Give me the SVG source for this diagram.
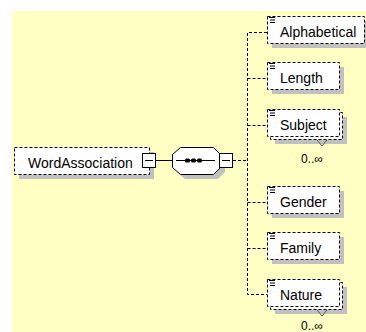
<svg xmlns="http://www.w3.org/2000/svg" width="366" height="332" viewBox="0 0 366 332">
<style>
.bg{fill:#FFFFC4}
.sh{fill:#C0C0C0}
.box{fill:#FFFFFF;stroke:#000;stroke-width:1;stroke-dasharray:3,2}
.solid{fill:#FFFFFF;stroke:#000;stroke-width:1}
.con{fill:none;stroke:#000;stroke-width:1;stroke-dasharray:3,2}
.line{fill:none;stroke:#000;stroke-width:1}
.ico{stroke:#000;stroke-width:1}
.t{font-family:"Liberation Sans",Arial,sans-serif;font-size:14px;fill:#000}
.occ{font-family:"Liberation Sans",Arial,sans-serif;font-size:12px;fill:#000}
.notch{fill:none;stroke:#555;stroke-width:1}
</style>
<defs>
<g id="icon"><line class="ico" x1="2" y1="1.5" x2="8" y2="1.5"/><line class="ico" x1="3" y1="4" x2="8" y2="4"/><line class="ico" x1="3" y1="6.5" x2="8" y2="6.5"/></g>
</defs>
<rect class="bg" x="12" y="11" width="354" height="321"/>

<g id="connectors">
<line class="line" x1="156" y1="160.5" x2="172" y2="160.5"/>
<line class="con" x1="233" y1="160.5" x2="247" y2="160.5"/>
<polyline class="con" points="267,32.5 247.5,32.5 247.5,294.5 267,294.5"/>
<line class="con" x1="247.5" y1="78.5" x2="267" y2="78.5"/>
<line class="con" x1="247.5" y1="125.5" x2="267" y2="125.5"/>
<line class="con" x1="247.5" y1="202.5" x2="267" y2="202.5"/>
<line class="con" x1="247.5" y1="248.5" x2="267" y2="248.5"/>
</g>

<g id="WordAssociation">
<rect class="sh" x="19" y="152" width="135" height="27"/>
<rect class="box" x="14.5" y="147.5" width="135" height="27"/>
<text class="t" x="28" y="168">WordAssociation</text>
<rect class="solid" x="142.5" y="153.5" width="13" height="14"/>
<line class="line" x1="145" y1="160.5" x2="153" y2="160.5"/>
</g>

<g id="sequence">
<polygon class="sh" points="185,152 218,152 225,159 225,172 218,179 185,179 177,172 177,159"/>
<polygon class="solid" points="180.5,147.5 213.5,147.5 220.5,154.5 220.5,167.5 213.5,174.5 180.5,174.5 172.5,167.5 172.5,154.5"/>
<line class="line" x1="176" y1="160.5" x2="215" y2="160.5"/>
<rect x="185" y="158.5" width="5" height="4" rx="1.5" fill="#000"/>
<rect x="191" y="158.5" width="5" height="4" rx="1.5" fill="#000"/>
<rect x="197" y="158.5" width="5" height="4" rx="1.5" fill="#000"/>
<rect class="solid" x="219.5" y="153.5" width="13" height="14"/>
<line class="line" x1="222" y1="160.5" x2="230" y2="160.5"/>
</g>

<g id="Alphabetical">
<rect class="sh" x="272" y="21" width="98" height="27"/>
<rect class="box" x="267.5" y="16.5" width="97" height="27"/>
<use href="#icon" x="267" y="16"/>
<text class="t" x="280" y="37">Alphabetical</text>
</g>

<g id="Length">
<rect class="sh" x="272" y="67" width="72" height="27"/>
<rect class="box" x="267.5" y="62.5" width="72" height="27"/>
<use href="#icon" x="267" y="62"/>
<text class="t" x="280" y="83">Length</text>
</g>

<g id="Subject">
<rect class="sh" x="275" y="117" width="72" height="27"/>
<rect class="box" x="270.5" y="112.5" width="72" height="27"/>
<rect class="box" x="267.5" y="109.5" width="72" height="27"/>
<use href="#icon" x="267" y="109"/>
<text class="t" x="280" y="130">Subject</text>
<polyline class="notch" points="317,140 322,146 327,140"/>
<text class="occ" x="301" y="163">0..∞</text>
</g>

<g id="Gender">
<rect class="sh" x="272" y="191" width="72" height="27"/>
<rect class="box" x="267.5" y="186.5" width="72" height="27"/>
<use href="#icon" x="267" y="186"/>
<text class="t" x="280" y="207">Gender</text>
</g>

<g id="Family">
<rect class="sh" x="272" y="237" width="72" height="27"/>
<rect class="box" x="267.5" y="232.5" width="72" height="27"/>
<use href="#icon" x="267" y="232"/>
<text class="t" x="280" y="253">Family</text>
</g>

<g id="Nature">
<rect class="sh" x="275" y="287" width="72" height="27"/>
<rect class="box" x="270.5" y="282.5" width="72" height="27"/>
<rect class="box" x="267.5" y="279.5" width="72" height="27"/>
<use href="#icon" x="267" y="279"/>
<text class="t" x="280" y="300">Nature</text>
<polyline class="notch" points="317,310 322,316 327,310"/>
<text class="occ" x="301" y="330">0..∞</text>
</g>
</svg>
